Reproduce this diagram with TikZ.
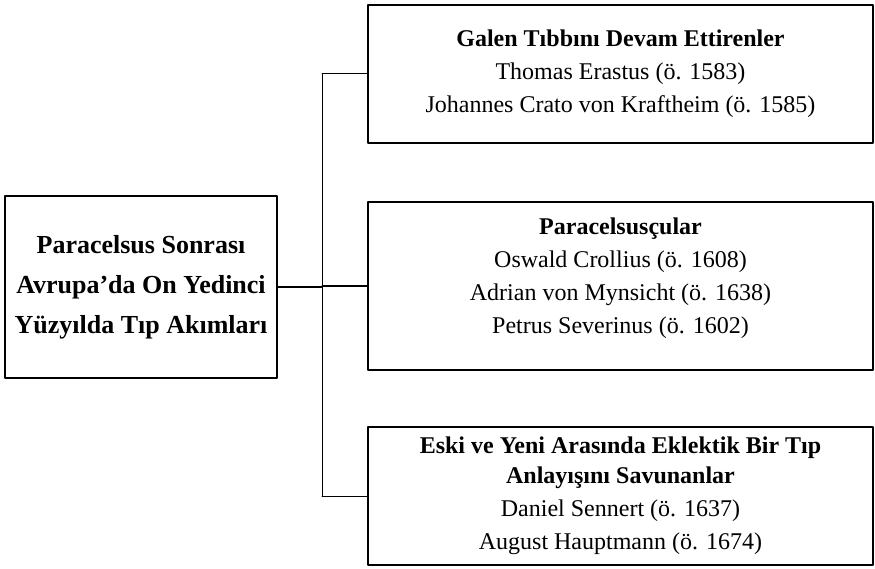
\documentclass[tikz,border=0pt]{standalone}
\usepackage{fontspec}
\setmainfont{Liberation Serif}
\usetikzlibrary{positioning}
\begin{document}
\begin{tikzpicture}[line cap=round, line join=round, x=1pt, y=-1pt, thick]
			\tikzset{ana/.style={draw, line width=1.4pt, minimum width=272pt, minimum height=182pt, align=center, font=\fontsize{26}{40}\selectfont\bfseries, inner sep=0pt},
				dal/.style={draw, line width=1.4pt, minimum width=505pt, align=center, font=\fontsize{24}{33}\selectfont, inner sep=0pt}}
			\useasboundingbox (0,0) rectangle (875,569);
			\node[ana] (akim) at (141,287) {Paracelsus Sonrası\\Avrupa’da On Yedinci\\Yüzyılda Tıp Akımları};
			\node[dal, minimum height=138pt] (galen) at (620.5,74) {\textbf{Galen Tıbbını Devam Ettirenler}\\Thomas Erastus (ö. 1583)\\Johannes Crato von Kraftheim (ö. 1585)};
			\node[dal, minimum height=168pt] (para) at (620.5,286) {\textbf{Paracelsusçular}\\Oswald Crollius (ö. 1608)\\Adrian von Mynsicht  (ö. 1638)\\Petrus Severinus (ö. 1602)\\[-12pt]};
			\node[dal, minimum height=138pt] (eski) at (620.5,496) {\textbf{Eski ve Yeni Arasında Eklektik  Bir Tıp}\\[-3pt]\textbf{Anlayışını Savunanlar}\\Daniel Sennert (ö. 1637)\\August Hauptmann (ö. 1674)};
			\coordinate (kol) at (322,287);
			\draw[line width=1.8pt] (akim.east) -- (kol);
			\draw[line width=1pt] (galen.west -| kol) -- (eski.west -| kol);
			\draw[line width=1pt] (galen.west -| kol) -- (galen.west);
			\draw[line width=1pt] (para.west -| kol) -- (para.west);
			\draw[line width=1pt] (eski.west -| kol) -- (eski.west);
		\end{tikzpicture}
\end{document}
